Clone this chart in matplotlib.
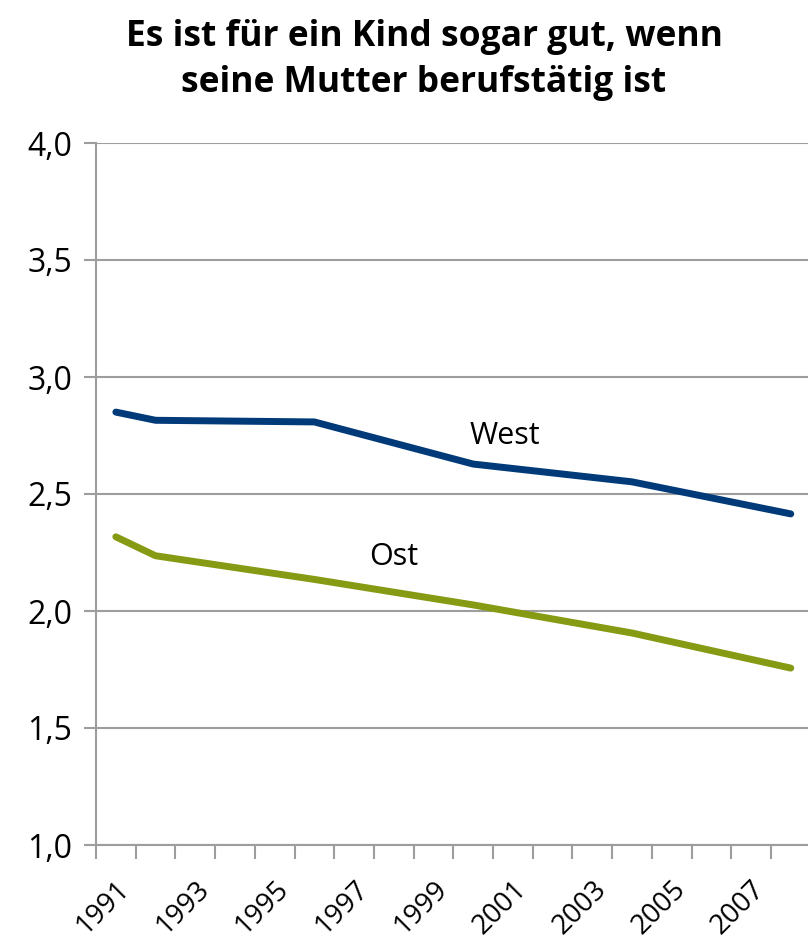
import matplotlib
matplotlib.use("Agg")
import matplotlib.pyplot as plt
from matplotlib.ticker import FixedLocator

# data
years = [1991, 1992, 1996, 2000, 2004, 2008]
west = [2.85, 2.815, 2.808, 2.628, 2.552, 2.415]
ost = [2.317, 2.236, 2.135, 2.026, 1.906, 1.756]
tick_years = [1991, 1993, 1995, 1997, 1999, 2001, 2003, 2005, 2007]
y_ticks = [1.0, 1.5, 2.0, 2.5, 3.0, 3.5, 4.0]
title = "Es ist für ein Kind sogar gut, wenn\nseine Mutter berufstätig ist"

W, H = 808, 944
fig = plt.figure(figsize=(W / 100, H / 100), dpi=100)
x0, x1 = 96, 810.6
y0, y1 = 143, 845
ax = fig.add_axes([x0 / W, 1 - y1 / H, (x1 - x0) / W, (y1 - y0) / H])

grid_c = "#9d9d9d"
ax.plot(years, west, color="#003a78", lw=5, solid_capstyle="round",
        solid_joinstyle="round", zorder=3, clip_on=False)
ax.plot(years, ost, color="#879a14", lw=5, solid_capstyle="round",
        solid_joinstyle="round", zorder=3, clip_on=False)

ax.set_xlim(1990.5, 2008.5)
ax.set_ylim(1.0, 4.0)
ax.set_yticks(y_ticks)
ax.set_yticklabels([f"{v:.1f}".replace(".", ",") for v in y_ticks],
                   fontsize=23, family="Open Sans")
ax.yaxis.grid(True, color=grid_c, lw=1.5)
ax.set_axisbelow(True)
ax.tick_params(axis="y", length=9, width=1.5, color=grid_c, pad=8, direction="out")

ax.set_xticks(tick_years)
ax.set_xticklabels([str(y) for y in tick_years], rotation=45, ha="right",
                   va="top", rotation_mode="anchor", fontsize=20, family="Open Sans")
ax.tick_params(axis="x", which="major", length=0, pad=22)
ax.xaxis.set_minor_locator(FixedLocator([1990.5 + k for k in range(19)]))
ax.tick_params(axis="x", which="minor", length=10, width=1.5, color=grid_c, direction="out")

for s in ("top", "right"):
    ax.spines[s].set_visible(False)
for s in ("left", "bottom"):
    ax.spines[s].set_color(grid_c)
    ax.spines[s].set_linewidth(1.5)

ax.text(2000.8, 2.75, "West", fontsize=22, family="Open Sans", ha="center", va="center")
ax.text(1998.0, 2.23, "Ost", fontsize=22, family="Open Sans", ha="center", va="center")

fig.text(424 / W, 1 - 60 / H, title, ha="center", va="center", fontsize=25.5,
         fontweight="bold", family="Open Sans", linespacing=1.35)

fig.savefig("out.png", dpi=100)
